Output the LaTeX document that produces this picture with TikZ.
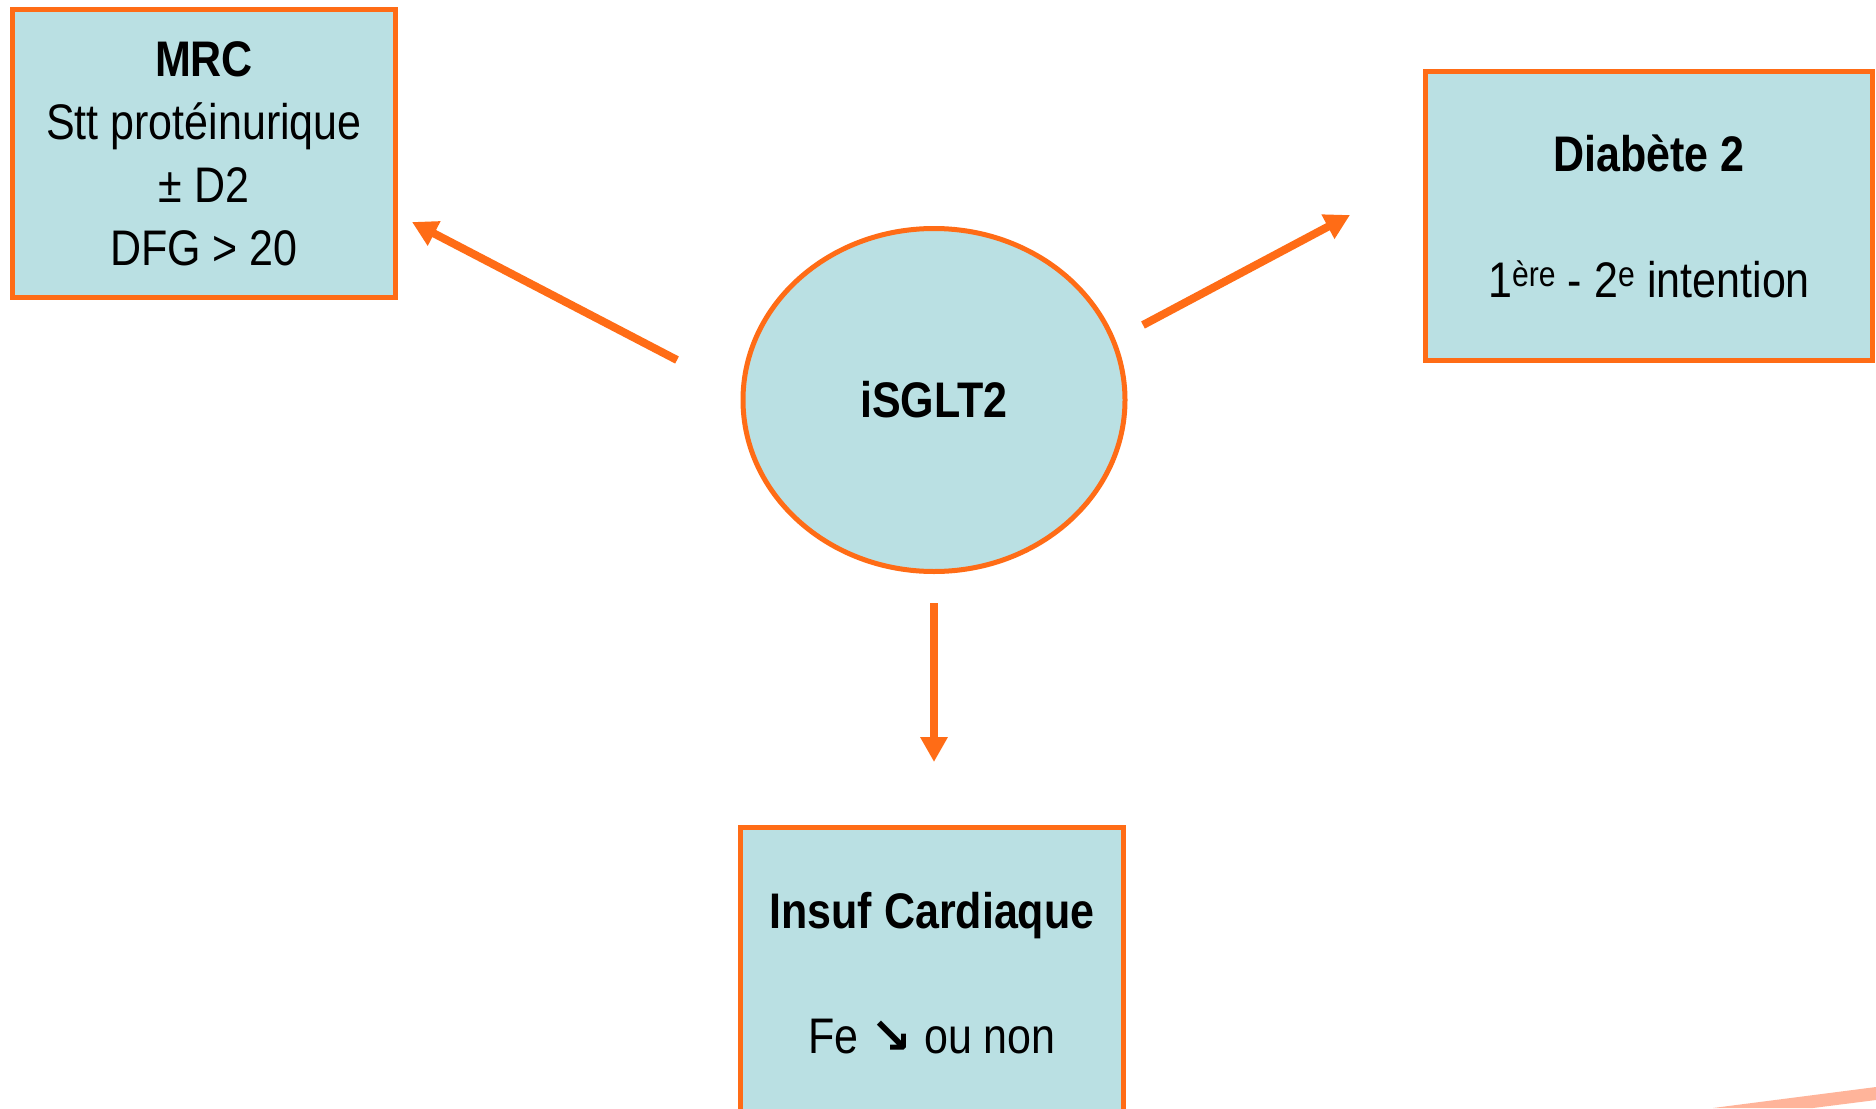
\documentclass[tikz,border=0pt]{standalone}
\usepackage{fontspec}
\setmainfont{Liberation Sans}[FakeStretch=0.86]
\newfontfamily\arrowfont{DejaVu Sans}
\usetikzlibrary{arrows.meta,shapes.geometric}
\definecolor{orng}{RGB}{255,108,22}
\definecolor{lblue}{RGB}{186,224,227}
\definecolor{salmon}{RGB}{255,180,154}
\begin{document}
\begin{tikzpicture}[x=1pt,y=-1pt,
  box/.style={draw=orng,fill=lblue,line width=5pt,inner sep=0pt,align=center,
    font=\fontsize{50}{63}\selectfont,anchor=north west},
  conn/.style={draw=orng,line width=8pt,-{Triangle[length=25pt,width=26pt]}}]
\useasboundingbox (0,0) rectangle (1876,1108);
\fill[white] (0,0) rectangle (1876,1108);
% partial shape at bottom right
\fill[salmon] (1713,1108) -- (1876,1087) -- (1876,1100) -- (1813,1108) -- cycle;
\node[box,minimum width=383pt,minimum height=288pt] (mrc) at (10,7)
  {\textbf{MRC}\\Stt protéinurique\\± D2\\DFG > 20};
\node[box,minimum width=447pt,minimum height=289pt] (diab) at (1423,69)
  {\textbf{Diabète 2}\\[63pt]1\textsuperscript{\raisebox{2pt}{ère}} - 2\textsuperscript{\raisebox{2pt}{e}} intention};
\node[box,minimum width=383pt,minimum height=292pt] (ic) at (738,825)
  {\textbf{Insuf Cardiaque}\\[62pt]Fe {\arrowfont\bfseries ↘} ou non};
\node[draw=orng,fill=lblue,line width=5pt,ellipse,minimum width=382pt,minimum height=343pt,
  inner sep=0pt,font=\fontsize{50}{63}\selectfont\bfseries] (sglt) at (934,400) {iSGLT2};
\coordinate (a1s) at (677,360);
\coordinate (a1e) at (412,222);
\coordinate (a2s) at (1143,325);
\coordinate (a2e) at (1350,215);
\coordinate (a3s) at (934,603);
\coordinate (a3e) at (934,762);
\draw[conn] (a1s) -- (a1e);
\draw[conn] (a2s) -- (a2e);
\draw[conn] (a3s) -- (a3e);
\end{tikzpicture}
\end{document}
